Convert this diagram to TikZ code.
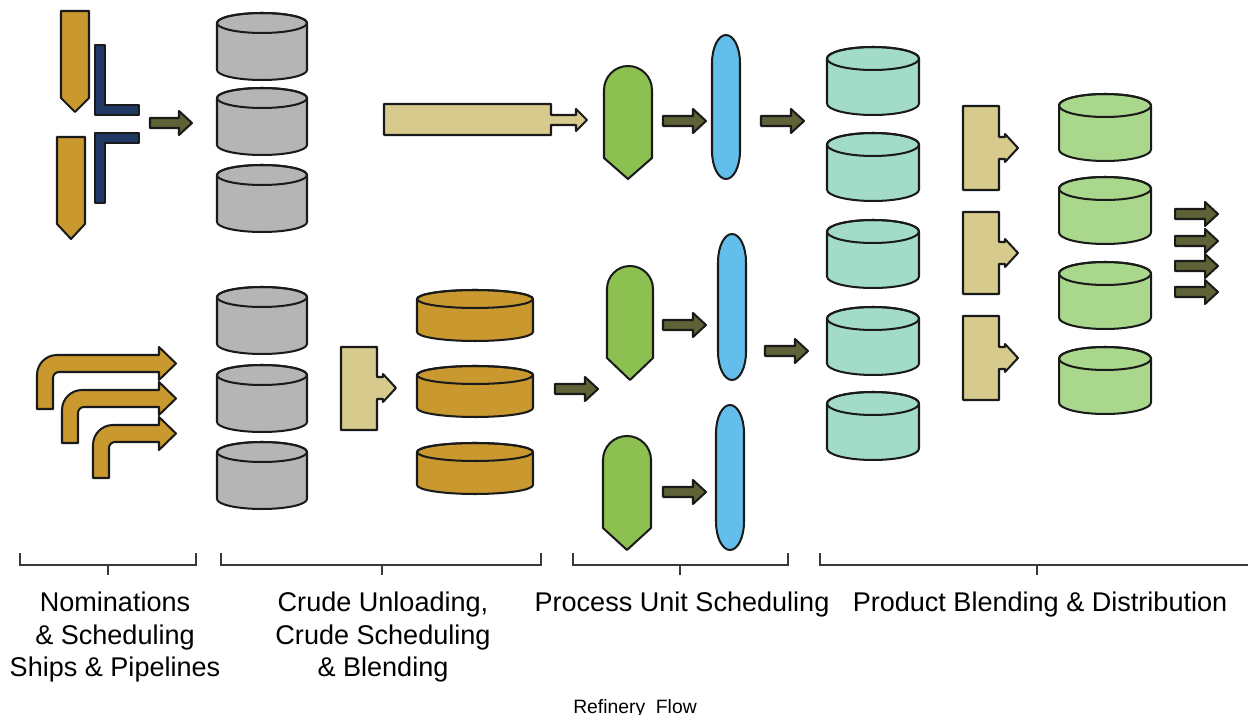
\documentclass[tikz,border=0pt]{standalone}
\usepackage{fontspec}
\setmainfont{Liberation Sans}
\usepackage{xcolor}
\usepackage{tikz}
\usetikzlibrary{arrows.meta,positioning}
\definecolor{ink}{HTML}{1A1A1A}
\definecolor{gold}{HTML}{C9982F}
\definecolor{navy}{HTML}{1F3864}
\definecolor{olive}{HTML}{5F6236}
\definecolor{sand}{HTML}{D6CB8C}
\definecolor{steel}{HTML}{B5B5B5}
\definecolor{leaf}{HTML}{8CC152}
\definecolor{sky}{HTML}{63BEEB}
\definecolor{mint}{HTML}{A2DCC9}
\definecolor{lime}{HTML}{A9D88C}
\definecolor{rulegray}{HTML}{3A3A3A}

% tank: left, right, top, height, cap radius, fill
\newcommand{\tank}[6]{%
  \filldraw[obj, fill=#6] (#1,#3+#5) -- (#1,#3+#4-#5)
    arc[start angle=180, end angle=0, x radius={(#2-#1)/2}, y radius=#5]
    -- (#2,#3+#5)
    arc[start angle=0, end angle=-180, x radius={(#2-#1)/2}, y radius=#5] -- cycle;
  \draw[obj] ({(#1+#2)/2},#3+#5) ellipse[x radius={(#2-#1)/2}, y radius=#5];
}
% block arrow: tail x, tip x, y
\newcommand{\blockarr}[3]{%
  \filldraw[obj, fill=olive] (#1,#3-5) -- (#2-13,#3-5) -- (#2-13,#3-12) -- (#2,#3)
    -- (#2-13,#3+12) -- (#2-13,#3+5) -- (#1,#3+5) -- cycle;
}
% feeder block: left, top, bottom, arrow y
\newcommand{\feeder}[4]{%
  \filldraw[obj, fill=sand] (#1,#2) -- (#1+36,#2) -- (#1+36,#4-11) -- (#1+42,#4-11)
    -- (#1+42,#4-14) -- (#1+55,#4) -- (#1+42,#4+14) -- (#1+42,#4+11) -- (#1+36,#4+11)
    -- (#1+36,#3) -- (#1,#3) -- cycle;
}
% reactor: left, right, top, side end, tip
\newcommand{\reactor}[5]{%
  \filldraw[obj, fill=leaf] (#1,#4) -- (#1,{#3+(#2-#1)/2})
    arc[start angle=180, end angle=360, radius={(#2-#1)/2}]
    -- (#2,#4) -- ({(#1+#2)/2},#5) -- cycle;
}
% column: left, right, top, bottom
\newcommand{\tower}[4]{%
  \filldraw[obj, fill=sky] (#1,#3+28)
    arc[start angle=180, end angle=360, x radius={(#2-#1)/2}, y radius=28]
    -- (#2,#4-28)
    arc[start angle=0, end angle=180, x radius={(#2-#1)/2}, y radius=28] -- cycle;
}

\begin{document}
\begin{tikzpicture}[
      x=0.02cm, y=-0.02cm,
      obj/.style={draw=ink, line width=1.15pt, line join=round},
      brace/.style={draw=rulegray, line width=0.8pt},
      stage/.style={anchor=north, inner sep=0pt, align=center, font=\fontsize{15.4}{18.4}\selectfont}
    ]
    \useasboundingbox (0,0) rectangle (1248,715);

    % ships and pipelines
    \filldraw[obj, fill=gold] (61,11) -- (89,11) -- (89,98) -- (75,112) -- (61,98) -- cycle;
    \filldraw[obj, fill=gold] (57,137) -- (85,137) -- (85,224) -- (71,239) -- (57,224) -- cycle;
    \filldraw[obj, fill=navy] (95,45) -- (105,45) -- (105,105) -- (139,105) -- (139,115) -- (95,115) -- cycle;
    \filldraw[obj, fill=navy] (95,133) -- (139,133) -- (139,143) -- (105,143) -- (105,203) -- (95,203) -- cycle;
    \foreach \x/\y/\b in {37/355/409, 62/390/443, 93/425/478}{
      \filldraw[obj, fill=gold] (\x,\b) -- (\x,\y+20) arc[start angle=180, end angle=270, radius=20]
        -- (159,\y) -- (159,\y-8) -- (176,\y+8.5) -- (159,\y+25) -- (159,\y+17)
        -- (\x+22,\y+17) arc[start angle=270, end angle=180, radius=6] -- (\x+16,\b) -- cycle;
    }

    % crude tanks
    \foreach \t in {13,88,165,287,365,442}{\tank{217}{307}{\t}{67}{10}{steel}}
    \foreach \t in {290,366,443}{\tank{417}{533}{\t}{51}{9}{gold}}
    \filldraw[obj, fill=sand] (384,104) -- (551,104) -- (551,115) -- (576,115) -- (576,109) -- (587,120)
      -- (576,131) -- (576,125) -- (551,125) -- (551,135) -- (384,135) -- cycle;
    \feeder{341}{347}{430}{388}

    % process units
    \reactor{604}{652}{66}{158}{179}
    \reactor{607}{653}{266}{358}{380}
    \reactor{603}{651}{436}{528}{550}
    \tower{712}{740}{35}{179}
    \tower{718}{746}{234}{380}
    \tower{716}{744}{405}{550}

    % products
    \foreach \t in {47,133,220,307,392}{\tank{827}{919}{\t}{68}{11.5}{mint}}
    \feeder{963}{106}{190}{148}
    \feeder{963}{212}{294}{253}
    \feeder{963}{316}{400}{358}
    \foreach \t in {94,177,262,347}{\tank{1059}{1151}{\t}{67}{11.5}{lime}}

    % flow arrows
    \blockarr{150}{192}{123}
    \blockarr{555}{598}{389}
    \blockarr{663}{706}{121}
    \blockarr{761}{804}{121}
    \blockarr{663}{706}{325}
    \blockarr{765}{808}{351}
    \blockarr{663}{706}{492}
    \foreach \y in {214,241,266,292}{\blockarr{1175}{1218}{\y}}

    % stage brackets
    \draw[brace] (20,553) -- (20,565) -- (196,565) -- (196,553) (108,565) -- (108,575);
    \draw[brace] (221,553) -- (221,565) -- (541,565) -- (541,553) (382,565) -- (382,575);
    \draw[brace] (573,553) -- (573,565) -- (788,565) -- (788,553) (680,565) -- (680,575);
    \draw[brace] (820,553) -- (820,565) -- (1248,565) (1037,565) -- (1037,575);

    \node[stage] (nom) at (115,592) {Nominations\\ \& Scheduling\\ Ships \& Pipelines};
    \node[stage] (crude) at (383,592) {Crude Unloading,\\ Crude Scheduling\\ \& Blending};
    \node[stage] (proc) at (682,592) {Process Unit Scheduling};
    \node[stage] (prod) at (1040,592) {Product Blending \& Distribution};
    \node[anchor=north, inner sep=0pt, font=\fontsize{11}{13}\selectfont] (title) at (635,699) {Refinery\ \ Flow};
  \end{tikzpicture}
\end{document}
